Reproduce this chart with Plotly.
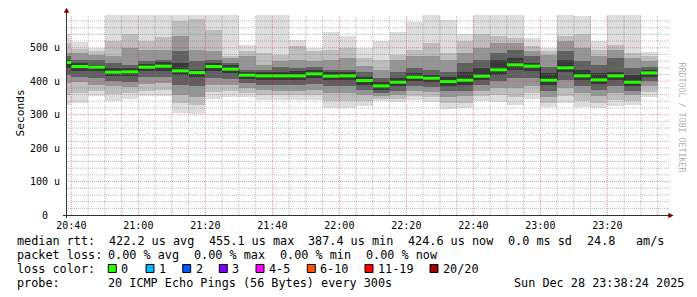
import plotly.graph_objects as go
import pandas as pd

# ---------------- data ----------------
bar_starts = pd.date_range("2025-12-28 20:35", periods=36, freq="5min")
view_start = "2025-12-28 20:38:24"
view_end = "2025-12-28 23:38:24"

median = [456, 444, 442, 427, 428, 442, 445, 431, 426, 444, 436, 418, 416, 416, 416, 422, 415, 416,
          402, 386, 397, 412, 409, 399, 403, 415, 434, 449, 445, 403, 440, 416, 404, 416, 397, 425]

# smoke layers (outer -> inner), upper edges
hi1 = [541, 516, 500, 650, 650, 650, 650, 650, 650, 650, 650, 509, 650, 650, 524, 499, 546, 536,
       499, 521, 548, 576, 650, 584, 540, 650, 650, 650, 529, 499, 650, 596, 519, 650, 650, 486]
hi2 = [514, 496, 489, 519, 542, 519, 531, 581, 586, 554, 474, 489, 484, 479, 504, 489, 494, 499,
       470, 464, 479, 494, 514, 484, 519, 541, 535, 530, 504, 489, 535, 541, 494, 509, 484, 474]
hi3 = [484, 484, 479, 474, 499, 494, 494, 536, 494, 489, 469, 474, 449, 459, 464, 459, 464, 469,
       446, 434, 464, 474, 474, 464, 484, 499, 514, 514, 489, 479, 519, 499, 474, 494, 469, 459]
hi4 = [474, 464, 464, 454, 449, 459, 464, 489, 459, 464, 454, 434, 434, 444, 439, 444, 434, 434,
       429, 409, 429, 439, 434, 429, 454, 464, 484, 494, 474, 444, 489, 459, 449, 469, 439, 444]
hi5 = [464, 454, 449, 439, 439, 451, 456, 454, 434, 454, 449, 429, 429, 429, 432, 434, 429, 429,
       412, 399, 409, 424, 419, 414, 429, 439, 464, 469, 454, 424, 464, 434, 424, 429, 419, 434]
# lower edges
lo5 = [440, 432, 430, 415, 416, 430, 432, 418, 412, 430, 424, 408, 405, 405, 405, 410, 403, 404,
       390, 375, 385, 400, 397, 387, 390, 403, 420, 435, 432, 390, 428, 404, 392, 404, 386, 413]
lo4 = [420, 414, 410, 400, 398, 412, 414, 390, 385, 410, 408, 395, 390, 390, 390, 392, 385, 385,
       375, 365, 372, 385, 382, 370, 372, 388, 400, 410, 410, 370, 405, 385, 375, 385, 372, 400]
lo3 = [395, 399, 390, 385, 382, 392, 394, 360, 352, 390, 390, 380, 375, 372, 372, 375, 365, 365,
       358, 355, 360, 370, 367, 352, 355, 372, 380, 380, 385, 352, 380, 365, 355, 365, 358, 385]
lo2 = [360, 365, 370, 362, 365, 372, 374, 335, 330, 368, 370, 365, 360, 358, 358, 358, 340, 340,
       340, 348, 348, 355, 352, 335, 335, 355, 358, 352, 365, 335, 355, 342, 335, 345, 342, 368]
lo1 = [329, 336, 356, 342, 346, 356, 356, 305, 302, 347, 353, 353, 344, 344, 344, 344, 319, 319,
       325, 341, 337, 344, 337, 316, 319, 341, 339, 329, 347, 324, 336, 324, 319, 326, 329, 354]

layer_colors = ["#dddddd", "#bebebe", "#959595", "#606060", "#383838"]

y_ticks = [0, 100, 200, 300, 400, 500]
y_tick_text = ["0", "100 u", "200 u", "300 u", "400 u", "500 u"]

loss_labels = ["0", "1", "2", "3", "4-5", "6-10", "11-19", "20/20"]
loss_colors = ["#26ff00", "#00b8ff", "#0059ff", "#7e00ff", "#ff00ff", "#ff5500", "#ff0000", "#a10000"]

# ---------------- geometry ----------------
W, H = 697, 297
ML, MR, MT, MB = 66, 28, 15, 82
PW = W - ML - MR
PH = H - MT - MB
YMAX = 598
MONO = "DejaVu Sans Mono"


def px(x):
    return (x - ML) / PW


def py(y):
    return (MT + PH - y) / PH


step = pd.Timedelta("5min")
centers = [t + step / 2 for t in bar_starts]

fig = go.Figure()

layers = [(lo1, hi1), (lo2, hi2), (lo3, hi3), (lo4, hi4), (lo5, hi5)]
for (lo, hi), col in zip(layers, layer_colors):
    fig.add_trace(go.Bar(
        x=centers, base=lo, y=[h - l for h, l in zip(hi, lo)],
        width=300000, marker=dict(color=col, line=dict(width=0)),
        hoverinfo="skip", showlegend=False))

# grid lines (drawn over the smoke like rrdtool)
minor_x = pd.date_range("2025-12-28 20:40", "2025-12-28 23:35", freq="5min")
major_x = [t for t in minor_x if t.minute % 20 == 0]
minor_x = [t for t in minor_x if t.minute % 20 != 0]
minor_y = [v for v in range(20, 600, 20) if v % 100 != 0]
major_y = [100, 200, 300, 400, 500]


def vlines(ts):
    xs, ys = [], []
    for t in ts:
        xs += [t, t, None]
        ys += [0, YMAX, None]
    return xs, ys


def hlines(vs):
    xs, ys = [], []
    for v in vs:
        xs += [view_start, view_end, None]
        ys += [v, v, None]
    return xs, ys


for fn, vals, col in [(vlines, minor_x, "rgba(130,130,130,0.55)"),
                      (hlines, minor_y, "rgba(130,130,130,0.55)"),
                      (vlines, major_x, "rgba(200,40,40,0.45)"),
                      (hlines, major_y, "rgba(200,40,40,0.45)")]:
    xs, ys = fn(vals)
    fig.add_trace(go.Scatter(x=xs, y=ys, mode="lines",
                             line=dict(color=col, width=1, dash="1px,1px"),
                             hoverinfo="skip", showlegend=False))

# median: dark step line + green segments
step_x = list(bar_starts) + [bar_starts[-1] + step]
step_y = median + [median[-1]]
fig.add_trace(go.Scatter(x=step_x, y=step_y, mode="lines", line=dict(color="#202020", width=1, shape="hv"),
                         hoverinfo="skip", showlegend=False))
gx, gy = [], []
for t, m in zip(bar_starts, median):
    gx += [t, t + step, None]
    gy += [m, m, None]
fig.add_trace(go.Scatter(x=gx, y=gy, mode="lines", line=dict(color=loss_colors[0], width=3),
                         hoverinfo="skip", showlegend=False))

annotations = []
# y tick labels (centered like rrdtool)
for v, txt in zip(y_ticks, y_tick_text):
    annotations.append(dict(x=px(44.5), xref="paper", y=v, yref="y", text=txt, showarrow=False,
                            xanchor="center", yanchor="middle", font=dict(family=MONO, size=10, color="#000")))

annotations.append(dict(x=px(11.5), y=py(113.5), xref="paper", yref="paper", text="Seconds", textangle=-90,
                        showarrow=False, font=dict(family=MONO, size=11.2, color="#000")))
annotations.append(dict(x=px(688.5), y=py(60), xref="paper", yref="paper", text="RRDTOOL / TOBI OETIKER",
                        textangle=90, showarrow=False, font=dict(family=MONO, size=8.3, color="#b4b4b4")))

LF = 11.8
rows = [240.5, 254.8, 269.0, 283.4]
texts = [
    (0, 16, "median rtt:"), (0, 108.3, "422.2 us avg"), (0, 208.2, "455.1 us max"),
    (0, 307.9, "387.4 us min"), (0, 407.4, "424.6 us now"), (0, 507.5, "0.0 ms sd"),
    (0, 586.2, "24.8"), (0, 635.2, "am/s"),
    (1, 16, "packet loss:"), (1, 107.8, "0.00 % avg"), (1, 193.3, "0.00 % max"),
    (1, 279.3, "0.00 % min"), (1, 365, "0.00 % now"),
    (2, 16, "loss color:"),
    (3, 16, "probe:"), (3, 107.8, "20 ICMP Echo Pings (56 Bytes) every 300s"),
    (3, 513.8, "Sun Dec 28 23:38:24 2025"),
]
for r, x, t in texts:
    annotations.append(dict(x=px(x - 1.5), y=py(rows[r]), xref="paper", yref="paper", text=t,
                            showarrow=False, xanchor="left", yanchor="middle",
                            font=dict(family=MONO, size=LF, color="#000")))

box_x = [108.3, 146, 182.7, 219.3, 256, 307.3, 365, 430]
shapes = []
for bx, lab, col in zip(box_x, loss_labels, loss_colors):
    shapes.append(dict(type="rect", xref="paper", yref="paper", x0=px(bx), x1=px(bx + 8),
                       y0=py(264.5), y1=py(272.5), fillcolor=col, line=dict(color="#000", width=1)))
    annotations.append(dict(x=px(bx + 12.4 - 1.5), y=py(rows[2]), xref="paper", yref="paper", text=lab,
                            showarrow=False, xanchor="left", yanchor="middle",
                            font=dict(family=MONO, size=LF, color="#000")))

# axes with arrows
shapes.append(dict(type="line", xref="paper", yref="paper", x0=px(66.5), x1=px(66.5), y0=py(218), y1=py(11),
                   line=dict(color="#333", width=1), layer="above"))
shapes.append(dict(type="line", xref="paper", yref="paper", x0=px(63), x1=px(670), y0=py(215.5), y1=py(215.5),
                   line=dict(color="#333", width=1), layer="above"))
shapes.append(dict(type="path", xref="paper", yref="paper",
                   path=f"M {px(63.8)},{py(12.8)} L {px(69.2)},{py(12.8)} L {px(66.5)},{py(7.8)} Z",
                   fillcolor="#800000", line=dict(width=0), layer="above"))
shapes.append(dict(type="path", xref="paper", yref="paper",
                   path=f"M {px(668.3)},{py(212.8)} L {px(668.3)},{py(218.2)} L {px(673.6)},{py(215.5)} Z",
                   fillcolor="#800000", line=dict(width=0), layer="above"))

fig.update_layout(
    width=W, height=H, margin=dict(l=ML, r=MR, t=MT, b=MB, pad=0),
    paper_bgcolor="#ffffff", plot_bgcolor="#ffffff",
    barmode="overlay", bargap=0, showlegend=False,
    annotations=annotations, shapes=shapes,
    xaxis=dict(type="date", range=[view_start, view_end], showgrid=False, zeroline=False, showline=False,
               tickvals=list(major_x), tickformat="%H:%M", ticks="", ticklabelstandoff=3,
               tickfont=dict(family=MONO, size=10, color="#000"), fixedrange=True),
    yaxis=dict(range=[0, YMAX], showgrid=False, zeroline=False, showline=False, showticklabels=False,
               ticks="", fixedrange=True),
)

fig.write_html("out.html", config={"displayModeBar": False})
